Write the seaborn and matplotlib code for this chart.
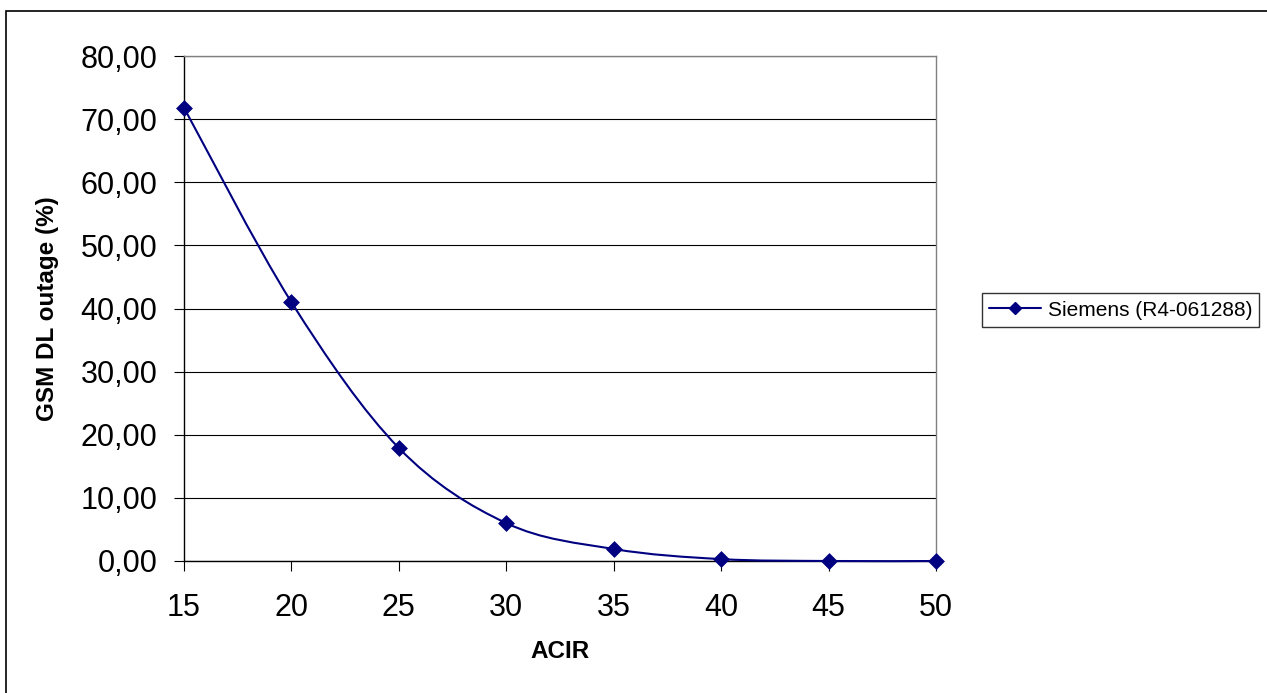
import numpy as np
import pandas as pd
import matplotlib
matplotlib.use("Agg")
import matplotlib.pyplot as plt
import seaborn as sns
from matplotlib.path import Path
from matplotlib.patches import PathPatch, Rectangle
from matplotlib.lines import Line2D
from matplotlib.ticker import FuncFormatter, MultipleLocator

# ---- data ----
acir = [15, 20, 25, 30, 35, 40, 45, 50]
outage = [71.8, 41.0, 17.9, 6.0, 1.9, 0.3, 0.0, 0.0]
series_name = "Siemens (R4-061288)"
x_label = "ACIR"
y_label = "GSM DL outage (%)"

df = pd.DataFrame({"ACIR": acir, "outage": outage})

sns.set_theme(style="white")
plt.rcParams["font.family"] = ["Liberation Sans", "DejaVu Sans"]

W, H = 1267, 693
fig = plt.figure(figsize=(W / 100, H / 100), dpi=100)
ax = fig.add_axes([184 / W, 1 - 561 / H, (936 - 184) / W, (561 - 56) / H])

navy = "#000080"

# smoothed curve (Excel-style smoothing) drawn as Bezier path in data coords
xs = np.array(acir, dtype=float)
ys = np.array(outage, dtype=float)
verts = [(xs[0], ys[0])]
codes = [Path.MOVETO]
n = len(xs)
for i in range(n - 1):
    p0 = np.array([xs[max(i - 1, 0)], ys[max(i - 1, 0)]])
    p1 = np.array([xs[i], ys[i]])
    p2 = np.array([xs[i + 1], ys[i + 1]])
    p3 = np.array([xs[min(i + 2, n - 1)], ys[min(i + 2, n - 1)]])
    c1 = p1 + (p2 - p0) / 6.0
    c2 = p2 - (p3 - p1) / 6.0
    verts += [tuple(c1), tuple(c2), tuple(p2)]
    codes += [Path.CURVE4] * 3
ax.add_patch(PathPatch(Path(verts, codes), facecolor="none", edgecolor=navy,
                       lw=1.5, zorder=3, clip_on=False))

sns.scatterplot(data=df, x="ACIR", y="outage", ax=ax, marker="D", s=65,
                color=navy, edgecolor=navy, linewidth=0.5, zorder=4,
                clip_on=False, legend=False)

ax.set_xlim(15, 50)
ax.set_ylim(0, 80)
ax.xaxis.set_major_locator(MultipleLocator(5))
ax.yaxis.set_major_locator(MultipleLocator(10))
ax.yaxis.set_major_formatter(FuncFormatter(lambda v, p: f"{v:.2f}".replace(".", ",")))

ax.grid(axis="y", color="#000000", lw=0.8)
ax.set_axisbelow(True)
for s in ["left", "bottom"]:
    ax.spines[s].set_color("#000000")
    ax.spines[s].set_linewidth(1.0)
for s in ["top", "right"]:
    ax.spines[s].set_color("#808080")
    ax.spines[s].set_linewidth(1.0)

ax.tick_params(axis="both", direction="out", length=7, width=0.8, color="#000000",
               labelsize=22, labelcolor="#000000", bottom=True, left=True)
ax.tick_params(axis="y", pad=12)
ax.tick_params(axis="x", pad=16)

ax.set_xlabel(x_label, fontsize=17.5, fontweight="bold", labelpad=12, color="#000000")
ax.set_ylabel(y_label, fontsize=17.5, fontweight="bold", labelpad=16, color="#000000")

handle = Line2D([0], [0], color=navy, lw=1.5, marker="D", markersize=6.5,
                markerfacecolor=navy, markeredgecolor=navy)
leg = ax.legend([handle], [series_name], loc="center left",
                bbox_to_anchor=(982 / W, 1 - 310 / H), bbox_transform=fig.transFigure,
                fontsize=15, frameon=True, fancybox=False, shadow=False,
                handlelength=2.5, handletextpad=0.3, borderpad=0.35,
                borderaxespad=0)
leg.get_frame().set_edgecolor("#000000")
leg.get_frame().set_linewidth(1.0)
for t in leg.get_texts():
    t.set_color("#000000")

# outer chart border
fig.add_artist(Rectangle((6 / W, -0.05), 1.1, 1 - 11 / H + 0.05, transform=fig.transFigure,
                         facecolor="none", edgecolor="#000000", lw=1.2))

fig.savefig("out.png", dpi=100)
